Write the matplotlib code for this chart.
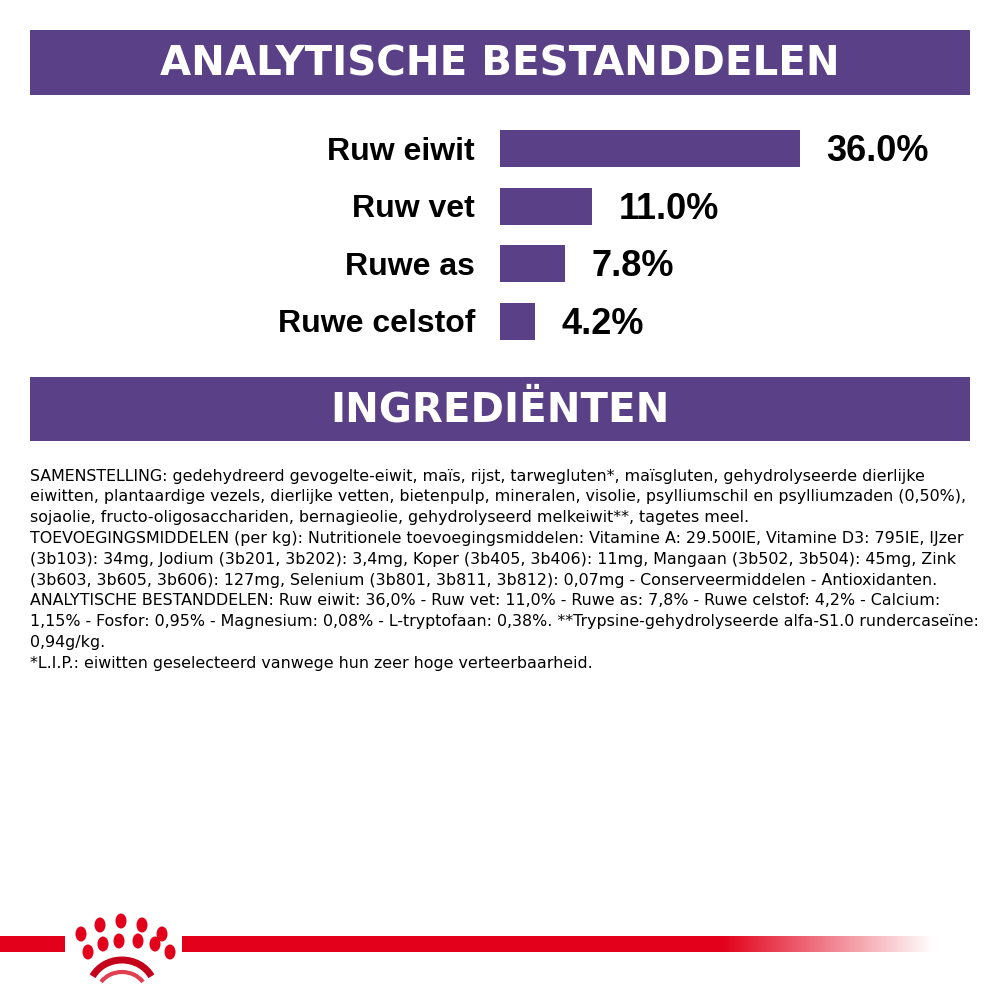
import numpy as np
import matplotlib.pyplot as plt
from matplotlib.patches import Rectangle, Ellipse, Arc

labels = ["Ruw eiwit", "Ruw vet", "Ruwe as", "Ruwe celstof"]
values = [36.0, 11.0, 7.8, 4.2]
value_texts = ["36.0%", "11.0%", "7.8%", "4.2%"]

body_lines = [
    "SAMENSTELLING: gedehydreerd gevogelte-eiwit, maïs, rijst, tarwegluten*, maïsgluten, gehydrolyseerde dierlijke",
    "eiwitten, plantaardige vezels, dierlijke vetten, bietenpulp, mineralen, visolie, psylliumschil en psylliumzaden (0,50%),",
    "sojaolie, fructo-oligosacchariden, bernagieolie, gehydrolyseerd melkeiwit**, tagetes meel.",
    "TOEVOEGINGSMIDDELEN (per kg): Nutritionele toevoegingsmiddelen: Vitamine A: 29.500IE, Vitamine D3: 795IE, IJzer",
    "(3b103): 34mg, Jodium (3b201, 3b202): 3,4mg, Koper (3b405, 3b406): 11mg, Mangaan (3b502, 3b504): 45mg, Zink",
    "(3b603, 3b605, 3b606): 127mg, Selenium (3b801, 3b811, 3b812): 0,07mg - Conserveermiddelen - Antioxidanten.",
    "ANALYTISCHE BESTANDDELEN: Ruw eiwit: 36,0% - Ruw vet: 11,0% - Ruwe as: 7,8% - Ruwe celstof: 4,2% - Calcium:",
    "1,15% - Fosfor: 0,95% - Magnesium: 0,08% - L-tryptofaan: 0,38%. **Trypsine-gehydrolyseerde alfa-S1.0 rundercaseïne:",
    "0,94g/kg.",
    "*L.I.P.: eiwitten geselecteerd vanwege hun zeer hoge verteerbaarheid.",
]

PURPLE = "#5a4187"
RED = "#e2001a"
FONT = ["DejaVu Sans"]

fig = plt.figure(figsize=(10, 10), dpi=100)
bg = fig.add_axes([0, 0, 1, 1])
bg.axis("off")

# banners
for y0, y1, title in [(30, 95, "ANALYTISCHE BESTANDDELEN"), (377, 441, "INGREDIËNTEN")]:
    bg.add_patch(Rectangle((30, y0), 940, y1 - y0, color=PURPLE, lw=0))
    bg.text(500, (y0 + y1) / 2 + 2, title, color="white", fontsize=29, fontweight="bold",
            ha="center", va="center", family=FONT)

# bars: pixel x 500 -> 0%, 800 -> 36%
bar_ax = fig.add_axes([0.5, 1 - 0.35, 0.5, 0.23])
bar_ax.set_xlim(0, 60)
y = np.arange(len(labels))
bar_ax.set_ylim(len(labels) - 0.5, -0.5)
bar_ax.barh(y, values, height=0.64, color=PURPLE)
for yi, v, lab, vt in zip(y, values, labels, value_texts):
    bar_ax.text(-3, yi + 0.05, lab, ha="right", va="center", fontsize=23, fontweight="bold",
                family=["Liberation Sans", "DejaVu Sans"], clip_on=False)
    bar_ax.text(v + 3.2, yi + 0.05, vt, ha="left", va="center", fontsize=26, fontweight="bold",
                family=["Liberation Sans", "DejaVu Sans"])
bar_ax.axis("off")

# ingredients text
for i, line in enumerate(body_lines):
    bg.text(30, 476 + i * 20.8, line, fontsize=11.4, ha="left", va="center", family=FONT)

# red line with fade
bg.add_patch(Rectangle((0, 936), 65, 16, color=RED, lw=0))
grad = np.ones((1, 300, 4))
grad[..., :3] = np.array([0xe2, 0x00, 0x1a]) / 255
alpha = np.ones(300)
alpha[215:] = np.linspace(1, 0, 85)
grad[0, :, 3] = alpha
bg.imshow(grad, extent=(182, 935, 952, 936), aspect="auto", zorder=1)

# crown logo
dots = [(81, 934), (100, 925), (121, 921), (142, 925), (162, 934),
        (103, 944), (119, 941), (138, 941), (155, 944), (88, 952), (170, 952)]
for cx, cy in dots:
    bg.add_patch(Ellipse((cx, cy), 11, 15, color=RED, lw=0))
bg.add_patch(Arc((122, 990), 66, 60, theta1=205, theta2=335, color="#c4001a", lw=5))
bg.add_patch(Arc((122, 994), 50, 44, theta1=210, theta2=330, color="#e04050", lw=3))
bg.set_xlim(0, 1000)
bg.set_ylim(1000, 0)

fig.savefig("out.png", dpi=100)
